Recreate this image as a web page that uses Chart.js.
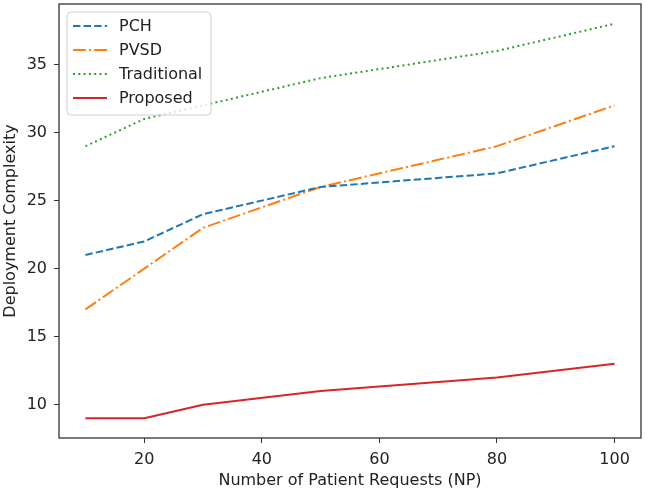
<!DOCTYPE html>
<html>
<head>
<meta charset="utf-8">
<script src="https://cdn.jsdelivr.net/npm/chart.js@4/dist/chart.umd.min.js"></script>
<style>
  html, body { margin: 0; padding: 0; background: #fff; }
  #wrap { width: 645px; height: 491px; }
</style>
</head>
<body>
<div id="wrap"><canvas id="chart" width="645" height="491"></canvas></div>
<script>
const requests    = [10, 20, 30, 50, 80, 100];
const pch         = [21, 22, 24, 26, 27, 29];
const pvsd        = [17, 20, 23, 26, 29, 32];
const traditional = [29, 31, 32, 34, 36, 38];
const proposed    = [9, 9, 10, 11, 12, 13];
const xTicks = [20, 40, 60, 80, 100];
const yTicks = [10, 15, 20, 25, 30, 35];

const FONT = "'DejaVu Sans', sans-serif";

function pts(vals) {
  return requests.map((x, i) => ({ x: x, y: vals[i] }));
}

function line(label, vals, color, dash) {
  return {
    label: label,
    data: pts(vals),
    borderColor: color,
    backgroundColor: color,
    borderWidth: 2,
    borderDash: dash,
    borderCapStyle: "butt",
    borderJoinStyle: "round",
    pointRadius: 0,
    tension: 0,
    fill: false
  };
}

// matplotlib-like frame + inside legend
const framePlugin = {
  id: "frame",
  afterDraw(chart) {
    const { ctx, chartArea: a } = chart;
    ctx.save();
    ctx.strokeStyle = "#333";
    ctx.lineWidth = 1.3;
    ctx.setLineDash([]);
    ctx.strokeRect(a.left, a.top, a.right - a.left, a.bottom - a.top);

    // legend box
    const bx = 67, by = 12, bw = 144, bh = 103, r = 4;
    ctx.beginPath();
    ctx.moveTo(bx + r, by);
    ctx.arcTo(bx + bw, by, bx + bw, by + bh, r);
    ctx.arcTo(bx + bw, by + bh, bx, by + bh, r);
    ctx.arcTo(bx, by + bh, bx, by, r);
    ctx.arcTo(bx, by, bx + bw, by, r);
    ctx.closePath();
    ctx.fillStyle = "rgba(255,255,255,0.8)";
    ctx.fill();
    ctx.lineWidth = 1;
    ctx.strokeStyle = "#d0d0d0";
    ctx.stroke();

    ctx.font = "16px " + FONT;
    ctx.textBaseline = "middle";
    ctx.textAlign = "left";
    chart.data.datasets.forEach((ds, i) => {
      const yy = by + 14 + i * 24;
      ctx.beginPath();
      ctx.strokeStyle = ds.borderColor;
      ctx.lineWidth = ds.borderWidth;
      ctx.lineCap = "butt";
      ctx.setLineDash(ds.borderDash || []);
      ctx.moveTo(bx + 6, yy);
      ctx.lineTo(bx + 40, yy);
      ctx.stroke();
      ctx.setLineDash([]);
      ctx.fillStyle = "#222";
      ctx.fillText(ds.label, bx + 52, yy + 1);
    });
    ctx.restore();
  }
};

new Chart(document.getElementById("chart"), {
  type: "line",
  data: {
    datasets: [
      line("PCH", pch, "#1f77b4", [7.4, 3.2]),
      line("PVSD", pvsd, "#ff7f0e", [12.8, 3.2, 2, 3.2]),
      line("Traditional", traditional, "#2ca02c", [2, 3.3]),
      line("Proposed", proposed, "#d62728", [])
    ]
  },
  plugins: [framePlugin],
  options: {
    responsive: false,
    animation: false,
    layout: { padding: { top: 4, right: 4, left: 0, bottom: 0 } },
    plugins: { legend: { display: false }, tooltip: { enabled: false } },
    scales: {
      x: {
        type: "linear",
        min: 5.5,
        max: 104.5,
        afterBuildTicks: s => { s.ticks = xTicks.map(v => ({ value: v })); },
        afterFit: s => { s.height = 53; s.paddingLeft = 0; s.paddingRight = 0; },
        grid: { drawOnChartArea: false, drawTicks: true, tickLength: 5, color: "#333" },
        border: { display: false },
        ticks: { color: "#222", padding: 7, maxRotation: 0, font: { family: FONT, size: 16 } },
        title: {
          display: true,
          text: "Number of Patient Requests (NP)",
          color: "#222",
          padding: { top: 0, bottom: 1 },
          font: { family: FONT, size: 16 }
        }
      },
      y: {
        min: 7.55,
        max: 39.45,
        afterBuildTicks: s => { s.ticks = yTicks.map(v => ({ value: v })); },
        afterFit: s => { s.width = 59; s.paddingTop = 0; s.paddingBottom = 0; },
        grid: { drawOnChartArea: false, drawTicks: true, tickLength: 5, color: "#333" },
        border: { display: false },
        ticks: { color: "#222", padding: 7, font: { family: FONT, size: 16 } },
        title: {
          display: true,
          text: "Deployment Complexity",
          color: "#222",
          padding: { top: 1, bottom: 0 },
          font: { family: FONT, size: 16 }
        }
      }
    }
  }
});
</script>
</body>
</html>
